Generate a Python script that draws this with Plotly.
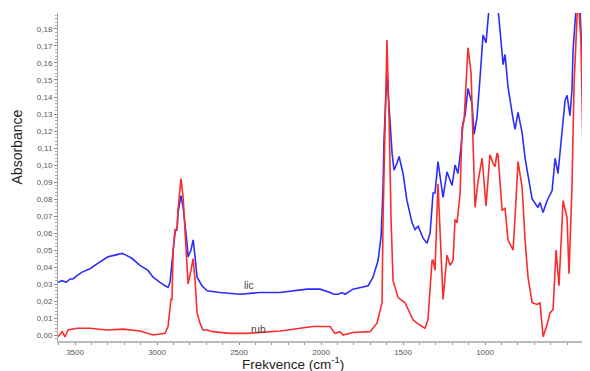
import plotly.graph_objects as go

# lic (blue) spectrum: wavenumber (cm-1), absorbance
lic_wn = [3604, 3579, 3555, 3530, 3512, 3488, 3457, 3409, 3348, 3299, 3256, 3213, 3189, 3152, 3104,
          3055, 3024, 3012, 2982, 2951, 2933, 2921, 2902, 2890, 2878, 2872, 2854, 2841, 2817, 2811,
          2793, 2780, 2768, 2756, 2726, 2695, 2616, 2494, 2372, 2250, 2085, 2006, 1945, 1921, 1896,
          1872, 1854, 1805, 1713, 1683, 1652, 1634, 1622, 1616, 1604, 1598, 1585, 1567, 1555, 1537,
          1524, 1500, 1476, 1445, 1427, 1408, 1378, 1354, 1335, 1317, 1305, 1287, 1256, 1232, 1201,
          1183, 1165, 1146, 1134, 1122, 1104, 1079, 1067, 1049, 1030, 1012, 994, 976, 950, 921,
          896, 890, 878, 860, 829, 817, 799, 774, 756, 738, 713, 677, 665, 646, 622,
          591, 573, 555, 530, 512, 500, 482, 470, 463, 445, 430, 421, 409, 390, 372, 360]
lic_abs = [0.031, 0.032, 0.031, 0.033, 0.033, 0.035, 0.037, 0.039, 0.043, 0.046, 0.047, 0.048, 0.047, 0.045, 0.041,
           0.038, 0.034, 0.033, 0.031, 0.029, 0.028, 0.031, 0.048, 0.061, 0.062, 0.072, 0.082, 0.075, 0.054, 0.046,
           0.050, 0.056, 0.046, 0.034, 0.029, 0.026, 0.025, 0.024, 0.025, 0.025, 0.027, 0.027, 0.025, 0.024, 0.024,
           0.025, 0.024, 0.027, 0.029, 0.034, 0.044, 0.058, 0.087, 0.115, 0.142, 0.153, 0.134, 0.107, 0.097, 0.101,
           0.105, 0.095, 0.079, 0.066, 0.062, 0.064, 0.057, 0.054, 0.060, 0.0835, 0.0835, 0.102, 0.081, 0.096, 0.088,
           0.100, 0.095, 0.111, 0.125, 0.129, 0.145, 0.136, 0.118, 0.128, 0.152, 0.1765, 0.172, 0.192, 0.210, 0.192,
           0.166, 0.159, 0.165, 0.146, 0.127, 0.121, 0.131, 0.119, 0.104, 0.093, 0.080, 0.075, 0.078, 0.072, 0.079,
           0.085, 0.104, 0.095, 0.119, 0.138, 0.141, 0.129, 0.144, 0.168, 0.192, 0.205, 0.192, 0.164, 0.144, 0.134, 0.140]

# rub (red) spectrum
rub_wn = [3604, 3579, 3561, 3543, 3488, 3409, 3305, 3207, 3104, 3024, 2982, 2951, 2933, 2915, 2909,
          2902, 2890, 2878, 2872, 2854, 2841, 2823, 2811, 2793, 2780, 2768, 2756, 2738, 2720, 2695,
          2659, 2555, 2451, 2250, 2049, 1945, 1915, 1884, 1866, 1805, 1701, 1659, 1628, 1622, 1610,
          1598, 1585, 1573, 1561, 1530, 1488, 1470, 1439, 1415, 1366, 1348, 1323, 1317, 1305, 1287,
          1268, 1256, 1232, 1213, 1195, 1183, 1171, 1152, 1140, 1128, 1104, 1085, 1073, 1061, 1043,
          1018, 994, 970, 951, 939, 927, 921, 896, 878, 860, 829, 817, 799, 774, 756,
          738, 713, 683, 665, 646, 622, 604, 585, 567, 549, 524, 500, 488, 470, 457,
          439, 433, 415, 402, 384, 366]
rub_abs = [-0.001, 0.002, -0.001, 0.003, 0.004, 0.004, 0.003, 0.0035, 0.0024, 0.000, 0.0006, 0.001, 0.005, 0.021, 0.021,
           0.050, 0.062, 0.062, 0.074, 0.092, 0.081, 0.048, 0.030, 0.038, 0.045, 0.032, 0.013, 0.007, 0.003, 0.003,
           0.002, 0.001, 0.001, 0.0024, 0.005, 0.005, 0.001, 0.002, 0.000, 0.0015, 0.002, 0.007, 0.019, 0.068, 0.126,
           0.1735, 0.126, 0.068, 0.032, 0.022, 0.019, 0.015, 0.009, 0.007, 0.004, 0.009, 0.044, 0.044, 0.038, 0.089,
           0.044, 0.021, 0.047, 0.041, 0.044, 0.068, 0.066, 0.0835, 0.122, 0.126, 0.169, 0.154, 0.113, 0.075, 0.090,
           0.104, 0.076, 0.106, 0.101, 0.099, 0.107, 0.106, 0.0735, 0.0745, 0.056, 0.050, 0.069, 0.102, 0.087, 0.056,
           0.034, 0.019, 0.018, 0.019, -0.001, 0.006, 0.013, 0.015, 0.050, 0.029, 0.079, 0.069, 0.036, 0.087, 0.148,
           0.181, 0.200, 0.173, 0.103, 0.054, 0.048]

x_ticks = [3500, 3000, 2500, 2000, 1500, 1000]

fig = go.Figure()
fig.add_trace(go.Scatter(x=lic_wn, y=lic_abs, mode="lines", name="lic",
                         line=dict(color="rgb(45,45,250)", width=1.6)))
fig.add_trace(go.Scatter(x=rub_wn, y=rub_abs, mode="lines", name="rub",
                         line=dict(color="rgb(250,45,45)", width=1.6)))

fig.add_annotation(x=2445, y=0.029, xref="x", yref="y", text="lic", showarrow=False,
                   font=dict(size=10, color="#444", family="Liberation Sans"))
fig.add_annotation(x=2384, y=0.003, xref="x", yref="y", text="rub", showarrow=False,
                   font=dict(size=10, color="#444", family="Liberation Sans"))

fig.add_annotation(x=0.4417, y=0, xref="paper", yref="paper", yshift=-22,
                   text="Frekvence (cm<sup>-1</sup>)", showarrow=False, yanchor="middle",
                   font=dict(size=13.5, color="#222", family="Liberation Sans"))
fig.add_annotation(x=0, y=0.59, xref="paper", yref="paper", xshift=-41,
                   text="Absorbance", showarrow=False, textangle=-90, xanchor="center",
                   font=dict(size=14, color="#222", family="Liberation Sans"))

# page body has an 8px margin, so the figure is drawn 8px smaller and offset
fig.update_layout(
    width=582, height=363,
    margin=dict(l=50, r=0, t=5, b=30),
    plot_bgcolor="white", paper_bgcolor="white",
    showlegend=False,
    separators=", ",
    font=dict(family="Liberation Sans", size=8, color="#555"),
)
fig.update_xaxes(range=[3604, 360], tickvals=x_ticks, ticktext=[str(v) for v in x_ticks],
                 showgrid=False, zeroline=False, showline=True, linecolor="#bbb", linewidth=2,
                 ticks="outside", ticklen=2, tickcolor="#888",
                 minor=dict(dtick=100, ticks="outside", ticklen=2, tickcolor="#999"),
                 tickfont=dict(size=8, color="#555"), automargin=False)
fig.update_yaxes(range=[-0.0035, 0.1894], dtick=0.01, tick0=0, tickformat=".2f",
                 showgrid=False, zeroline=False, showline=True, linecolor="#aaa", linewidth=1,
                 ticks="outside", ticklen=3, tickcolor="#888",
                 minor=dict(dtick=0.002, ticks="outside", ticklen=2, tickcolor="#aaa"),
                 tickfont=dict(size=8, color="#555"), automargin=False)

fig.write_html("out.html")
